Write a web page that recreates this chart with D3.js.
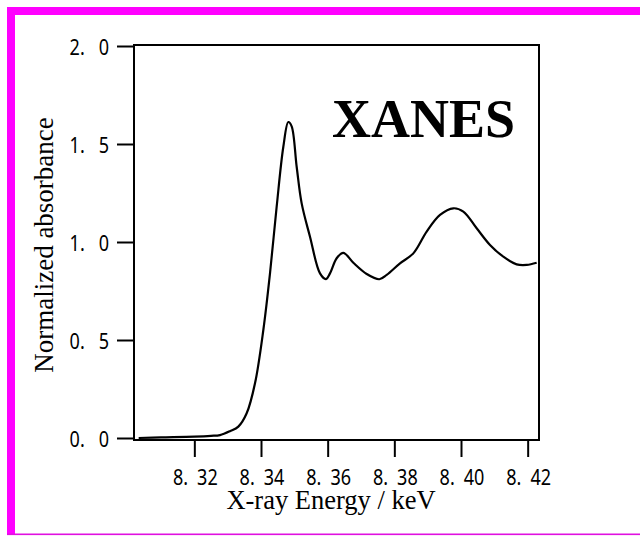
<!DOCTYPE html>
<html>
<head>
<meta charset="utf-8">
<script src="https://cdn.jsdelivr.net/npm/d3@7"></script>
<style>
html,body{margin:0;padding:0;background:#fff;}
svg{display:block;}
</style>
</head>
<body>
<svg id="chart" width="640" height="536"></svg>
<script>
// ---- data ----
const energy = [8.3033, 8.3100, 8.3200, 8.3250, 8.3277, 8.3307, 8.3332, 8.3357, 8.3382, 8.3407,
  8.3427, 8.3447, 8.3467, 8.3482, 8.3492, 8.3507, 8.3522, 8.3547, 8.3577, 8.3595,
  8.3607, 8.3627, 8.3647, 8.3677, 8.3717, 8.3755, 8.3777, 8.3817, 8.3857, 8.3897,
  8.3937, 8.3977, 8.4007, 8.4047, 8.4087, 8.4127, 8.4167, 8.4197, 8.4227];
const absorbance = [0.000, 0.003, 0.007, 0.011, 0.015, 0.035, 0.058, 0.126, 0.279, 0.551,
  0.840, 1.180, 1.486, 1.612, 1.590, 1.384, 1.197, 1.027, 0.840, 0.811,
  0.840, 0.917, 0.945, 0.894, 0.837, 0.810, 0.832, 0.891, 0.942, 1.053,
  1.138, 1.172, 1.155, 1.070, 0.985, 0.925, 0.886, 0.883, 0.894];
const xTicks = [8.32, 8.34, 8.36, 8.38, 8.40, 8.42];
const yTicks = [0, 0.5, 1.0, 1.5, 2.0];
const xTitle = "X-ray Energy / keV";
const yTitle = "Normalized absorbance";
const label = "XANES";

const svg = d3.select("#chart");

// magenta frame of the figure
const mag = "#ff00ff";
svg.append("rect").attr("x",7).attr("y",7).attr("width",8).attr("height",528).attr("fill",mag);
svg.append("rect").attr("x",7).attr("y",7).attr("width",633).attr("height",8).attr("fill",mag);
svg.append("rect").attr("x",7).attr("y",533.5).attr("width",633).attr("height",1.6).attr("fill","#e010e0");

const L=134, R=539, T=45, B=440;
const x = d3.scaleLinear().domain([8.3019, 8.4234]).range([L, R]);
const y = d3.scaleLinear().domain([-0.0102, 2.0051]).range([B, T]);

const tickFont = "'Noto Sans', 'DejaVu Sans', sans-serif";

// split "8.32" into "8." + spaced "32" (gothic-style spacing after the point)
function spacedLabel(sel, gap) {
  sel.each(function() {
    const t = d3.select(this);
    const s = t.text();
    const i = s.indexOf(".") + 1;
    t.text(null);
    t.append("tspan").text(s.slice(0, i));
    t.append("tspan").attr("dx", gap).text(s.slice(i));
  });
}

// y axis
const gy = svg.append("g").attr("transform", `translate(${L},0)`)
  .call(d3.axisLeft(y).tickValues(yTicks).tickSize(17).tickSizeOuter(0).tickPadding(0)
    .tickFormat(d3.format(".1f")));
gy.select(".domain").remove();
gy.selectAll(".tick line").attr("stroke","#000").attr("stroke-width",2);
gy.selectAll(".tick text")
  .attr("x", null).attr("dy", null)
  .attr("transform","translate(-25,8.5) scale(0.82,1)")
  .attr("text-anchor","end")
  .style("font-family", tickFont).style("font-size","22px")
  .attr("fill","#000")
  .call(spacedLabel, 17);

// x axis
const gx = svg.append("g").attr("transform", `translate(0,${B})`)
  .call(d3.axisBottom(x).tickValues(xTicks).tickSize(17).tickSizeOuter(0).tickPadding(0)
    .tickFormat(d3.format(".2f")));
gx.select(".domain").remove();
gx.selectAll(".tick line").attr("stroke","#000").attr("stroke-width",2);
gx.selectAll(".tick text")
  .attr("y", null).attr("dy", null)
  .attr("transform","translate(0.5,45) scale(0.82,1)")
  .attr("text-anchor","middle")
  .style("font-family", tickFont).style("font-size","22px")
  .attr("fill","#000")
  .call(spacedLabel, 11);

// plot frame
svg.append("rect").attr("x",L).attr("y",T).attr("width",R-L).attr("height",B-T)
  .attr("fill","none").attr("stroke","#000").attr("stroke-width",2);

// curve
const pts = energy.map((e,i)=>[e, absorbance[i]]);
const line = d3.line().x(d=>x(d[0])).y(d=>y(d[1])).curve(d3.curveCatmullRom.alpha(0.5));
svg.append("path").datum(pts).attr("d", line)
  .attr("fill","none").attr("stroke","#000").attr("stroke-width",2.2).attr("stroke-linejoin","round");

// titles
const serif = "'Liberation Serif', 'Times New Roman', serif";
svg.append("text").attr("x",331).attr("y",509).attr("text-anchor","middle")
  .style("font-family",serif).style("font-size","26.5px").attr("fill","#000").text(xTitle);
svg.append("text").attr("transform","translate(53,245) rotate(-90)").attr("text-anchor","middle")
  .style("font-family",serif).style("font-size","27px").attr("fill","#000").text(yTitle);
svg.append("text").attr("x",515).attr("y",137).attr("text-anchor","end")
  .style("font-family",serif).style("font-size","54px").style("font-weight","bold")
  .attr("fill","#000").text(label);
</script>
</body>
</html>
